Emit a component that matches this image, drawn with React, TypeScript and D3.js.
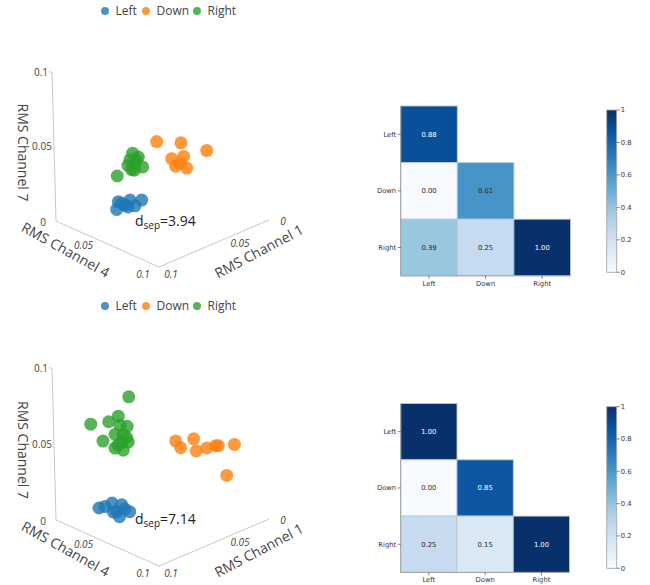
import React from "react";
import * as d3 from "d3";

// ---------- DATA ----------
const CLASSES = ["Left", "Down", "Right"];
const CLASS_COLORS = ["#1f77b4", "#ff7f0e", "#2ca02c"];

// 3D points: [RMS Channel 1, RMS Channel 4, RMS Channel 7]
type P3 = [number, number, number];

const run1Left: P3[] = [
  [0.071, 0.03, 0.013], [0.0604, 0.03, 0.0108], [0.0499, 0.03, 0.0075], [0.0726, 0.03, 0.0084],
  [0.065, 0.03, 0.0089], [0.0561, 0.03, 0.0056], [0.068, 0.03, 0.011], [0.0624, 0.03, 0.0068],
];
const run1Down: P3[] = [
  [0.0625, 0.06, 0.06], [0.0407, 0.06, 0.0523], [0.0177, 0.06, 0.0398], [0.0494, 0.06, 0.0444],
  [0.0386, 0.06, 0.0425], [0.046, 0.06, 0.0383], [0.0361, 0.06, 0.0339], [0.042, 0.06, 0.0389],
];
const run1Right: P3[] = [
  [0.0569, 0.03, 0.0412], [0.0595, 0.03, 0.0376], [0.0519, 0.03, 0.037], [0.0551, 0.03, 0.0336],
  [0.0482, 0.03, 0.0292], [0.0582, 0.03, 0.0306], [0.0558, 0.03, 0.0294], [0.0713, 0.03, 0.0304],
  [0.0614, 0.03, 0.0344], [0.0541, 0.03, 0.0355],
];

const run2Left: P3[] = [
  [0.0885, 0.03, 0.0134], [0.0767, 0.03, 0.013], [0.068, 0.03, 0.0092], [0.0831, 0.03, 0.0128],
  [0.0727, 0.03, 0.0062], [0.061, 0.03, 0.0025], [0.0703, 0.03, 0.0021], [0.0758, 0.03, 0.0069],
  [0.0652, 0.03, 0.0056],
];
const run2Down: P3[] = [
  [0.0637, 0.08, 0.065], [0.0594, 0.08, 0.0592], [0.0475, 0.08, 0.0614], [0.0455, 0.08, 0.0528],
  [0.036, 0.08, 0.0518], [0.0278, 0.08, 0.0508], [0.0255, 0.08, 0.0501], [0.011, 0.08, 0.0464],
  [0.0187, 0.08, 0.0284],
];
const run2Right: P3[] = [
  [0.05, 0.02, 0.0716], [0.0848, 0.02, 0.0644], [0.0686, 0.02, 0.061], [0.0598, 0.02, 0.0619],
  [0.0585, 0.02, 0.0555], [0.0521, 0.02, 0.0529], [0.0742, 0.02, 0.05], [0.0632, 0.02, 0.051],
  [0.0558, 0.02, 0.0485], [0.0528, 0.02, 0.0458], [0.0636, 0.02, 0.0421], [0.0562, 0.02, 0.0384],
  [0.0574, 0.02, 0.0439], [0.0515, 0.02, 0.0423], [0.0608, 0.02, 0.0432],
];

const dsepValues = [3.94, 7.14];

// Heatmap matrices (lower triangle, rows = CLASSES, cols = CLASSES)
const run1Matrix: (number | null)[][] = [
  [0.88, null, null],
  [0.0, 0.61, null],
  [0.39, 0.25, 1.0],
];
const run2Matrix: (number | null)[][] = [
  [1.0, null, null],
  [0.0, 0.85, null],
  [0.25, 0.15, 1.0],
];

const axisTicks3d = [0, 0.05, 0.1];
const axisTickLabels3d = ["0", "0.05", "0.1"];
const colorbarTicks = [0, 0.2, 0.4, 0.6, 0.8, 1];
const colorbarTickLabels = ["0", "0.2", "0.4", "0.6", "0.8", "1"];

// ---------- STYLE / LAYOUT ----------
const BLUES = ["#f7fbff", "#deebf7", "#c6dbef", "#9ecae1", "#6baed6", "#4292c6", "#2171b5", "#08519c", "#08306b"];
const colorScale = d3
  .scaleLinear<string>()
  .domain(d3.range(9).map((i) => i / 8))
  .range(BLUES)
  .interpolate(d3.interpolateRgb)
  .clamp(true);

const PLOTLY_FONT = "'Open Sans', 'Noto Sans', sans-serif";
const MPL_FONT = "'DejaVu Sans', sans-serif";
const TXT = "#444";

type Geo = { C: [number, number]; U4: [number, number]; U1: [number, number]; U7: [number, number] };

const panels = [
  {
    dy: 0,
    geo: { C: [56, 221], U4: [103, 46], U1: [110, -47], U7: [-4, -149] } as Geo,
    data: [run1Left, run1Down, run1Right],
    matrix: run1Matrix,
    dsep: dsepValues[0],
    legendY: 11,
    dsepPos: [135, 225.5],
    hm: { x0: 400.7, y0: 106, cell: 56.6, cbX: 606.7, cbY0: 110, cbY1: 272.3 },
  },
  {
    dy: 299,
    geo: { C: [56, 520], U4: [103, 46], U1: [110, -47], U7: [-4, -152] } as Geo,
    data: [run2Left, run2Down, run2Right],
    matrix: run2Matrix,
    dsep: dsepValues[1],
    legendY: 306,
    dsepPos: [135, 523.5],
    hm: { x0: 400.7, y0: 403.5, cell: 56.3, cbX: 606.7, cbY0: 406.7, cbY1: 568.3 },
  },
];

const legendX = [105, 146, 197];
// offsets of 3D tick labels (center) from their axis point
const vertLabelOff = [[-13, 1.5], [-12, 0], [-11, 0]];
const ch4LabelOff = [null, [-24, 1.5], [-16, 7.5]];
const ch1LabelOff = [[14, 1.5], [26, 0], [12, 7.5]];

function makeProjection(g: Geo) {
  const s4 = d3.scaleLinear().domain([0, 0.1]).range([0, 1]);
  const s1 = d3.scaleLinear().domain([0.1, 0]).range([0, 1]);
  const s7 = d3.scaleLinear().domain([0, 0.1]).range([0, 1]);
  return (p: P3): [number, number] => {
    const a = s4(p[1]);
    const b = s1(p[0]);
    const c = s7(p[2]);
    return [
      g.C[0] + a * g.U4[0] + b * g.U1[0] + c * g.U7[0],
      g.C[1] + a * g.U4[1] + b * g.U1[1] + c * g.U7[1],
    ];
  };
}

function Scatter3D({ panel }: { panel: (typeof panels)[number] }) {
  const proj = makeProjection(panel.geo);
  const o = proj([0.1, 0, 0]);
  const top = proj([0.1, 0, 0.1]);
  const c4 = proj([0.1, 0.1, 0]);
  const c1 = proj([0, 0.1, 0]);
  const axisColor = "#c8c8c8";
  const ly = panel.legendY;

  const mid7 = proj([0.1, 0, 0.05]);
  const mid4 = proj([0.1, 0.05, 0]);
  const mid1 = proj([0.05, 0.1, 0]);

  return (
    <g>
      {CLASSES.map((c, i) => (
        <g key={c}>
          <circle cx={legendX[i]} cy={ly} r={4} fill={CLASS_COLORS[i]} fillOpacity={0.8} />
          <text x={legendX[i] + 10.5} y={ly + 4.3} fontSize={12} fontFamily={PLOTLY_FONT} fill={TXT}>
            {c}
          </text>
        </g>
      ))}
      <line x1={o[0]} y1={o[1]} x2={top[0]} y2={top[1]} stroke={axisColor} strokeWidth={1} />
      <line x1={top[0]} y1={top[1]} x2={top[0] - 3} y2={top[1]} stroke={axisColor} strokeWidth={1} />
      <line x1={o[0]} y1={o[1]} x2={c4[0]} y2={c4[1]} stroke={axisColor} strokeWidth={1} />
      <line x1={c4[0]} y1={c4[1]} x2={c1[0]} y2={c1[1]} stroke={axisColor} strokeWidth={1} />
      {axisTicks3d.map((v, i) => {
        const p = proj([0.1, 0, v]);
        return (
          <text key={"v" + i} x={p[0] + vertLabelOff[i][0]} y={p[1] + vertLabelOff[i][1] + 3.5}
            fontSize={10} fontFamily={PLOTLY_FONT} fill={TXT} textAnchor="middle">
            {axisTickLabels3d[i]}
          </text>
        );
      })}
      {axisTicks3d.map((v, i) => {
        const off = ch4LabelOff[i];
        if (!off) return null;
        const p = proj([0.1, v, 0]);
        return (
          <text key={"a" + i} x={p[0] + off[0]} y={p[1] + off[1] + 3.5}
            fontSize={10} fontFamily={PLOTLY_FONT} fill={TXT} textAnchor="middle" fontStyle="italic">
            {axisTickLabels3d[i]}
          </text>
        );
      })}
      {axisTicks3d.map((v, i) => {
        const off = ch1LabelOff[i];
        const p = proj([v, 0.1, 0]);
        return (
          <text key={"b" + i} x={p[0] + off[0]} y={p[1] + off[1] + 3.5}
            fontSize={10} fontFamily={PLOTLY_FONT} fill={TXT} textAnchor="middle" fontStyle="italic">
            {axisTickLabels3d[i]}
          </text>
        );
      })}
      <text transform={`translate(${mid7[0] - 31},${mid7[1] + 6}) rotate(90)`} fontSize={14}
        fontFamily={PLOTLY_FONT} fill={TXT} textAnchor="middle" dy="0.35em">
        RMS Channel 7
      </text>
      <text transform={`translate(${mid4[0] - 42},${mid4[1] + 6}) rotate(29)`} fontSize={14}
        fontFamily={PLOTLY_FONT} fill={TXT} textAnchor="middle" dy="0.35em">
        RMS Channel 4
      </text>
      <text transform={`translate(${mid1[0] + 45},${mid1[1] + 8}) rotate(-28)`} fontSize={14}
        fontFamily={PLOTLY_FONT} fill={TXT} textAnchor="middle" dy="0.35em">
        RMS Channel 1
      </text>
      {panel.data.map((arr, ci) => (
        <g key={ci}>
          {arr.map((p, j) => {
            const [x, y] = proj(p);
            return <circle key={j} cx={x} cy={y} r={6.5} fill={CLASS_COLORS[ci]} fillOpacity={0.8} />;
          })}
        </g>
      ))}
      <text x={panel.dsepPos[0]} y={panel.dsepPos[1]} fontSize={14} fontFamily={PLOTLY_FONT} fill="#222">
        d
        <tspan fontSize={10} dy={3}>sep</tspan>
        <tspan dy={-3}>={panel.dsep.toFixed(2)}</tspan>
      </text>
    </g>
  );
}

function Heatmap({ panel }: { panel: (typeof panels)[number] }) {
  const { x0, y0, cell, cbX, cbY0, cbY1 } = panel.hm;
  const xs = d3.scaleBand().domain(CLASSES).range([x0, x0 + 3 * cell]);
  const ys = d3.scaleBand().domain(CLASSES).range([y0, y0 + 3 * cell]);
  const cbScale = d3.scaleLinear().domain([0, 1]).range([cbY1, cbY0]);
  const gid = "cbgrad" + panel.dy;
  const fs = 6.8;
  const tickColor = "#333";
  return (
    <g>
      <defs>
        <linearGradient id={gid} x1="0" y1="1" x2="0" y2="0">
          {BLUES.map((c, i) => (
            <stop key={i} offset={`${(i / 8) * 100}%`} stopColor={c} />
          ))}
        </linearGradient>
      </defs>
      {panel.matrix.map((row, ri) =>
        row.map((v, cj) => {
          if (v === null) return null;
          const x = xs(CLASSES[cj])!;
          const y = ys(CLASSES[ri])!;
          return (
            <g key={ri + "-" + cj}>
              <rect x={x} y={y} width={xs.bandwidth()} height={ys.bandwidth()} fill={colorScale(v)}
                stroke="#bcc6d2" strokeWidth={0.9} />
              <text x={x + xs.bandwidth() / 2} y={y + ys.bandwidth() / 2} dy="0.35em" textAnchor="middle"
                fontSize={fs} fontFamily={MPL_FONT} fill={v > 0.7 ? "#ffffff" : "#262626"}>
                {v.toFixed(2)}
              </text>
            </g>
          );
        })
      )}
      <line x1={x0} y1={y0} x2={x0} y2={y0 + 3 * cell} stroke="#a0a0a0" strokeWidth={1} />
      <line x1={x0} y1={y0 + 3 * cell} x2={x0 + 3 * cell} y2={y0 + 3 * cell} stroke="#a0a0a0" strokeWidth={1} />
      {CLASSES.map((c) => {
        const y = ys(c)! + ys.bandwidth() / 2;
        return (
          <g key={"y" + c}>
            <line x1={x0 - 3} x2={x0} y1={y} y2={y} stroke={tickColor} strokeWidth={0.6} />
            <text x={x0 - 4.5} y={y} dy="0.35em" textAnchor="end" fontSize={fs} fontFamily={MPL_FONT} fill={tickColor}>
              {c}
            </text>
          </g>
        );
      })}
      {CLASSES.map((c) => {
        const x = xs(c)! + xs.bandwidth() / 2;
        const yb = y0 + 3 * cell;
        return (
          <g key={"x" + c}>
            <line x1={x} x2={x} y1={yb} y2={yb + 3} stroke={tickColor} strokeWidth={0.6} />
            <text x={x} y={yb + 9.8} textAnchor="middle" fontSize={fs} fontFamily={MPL_FONT} fill={tickColor}>
              {c}
            </text>
          </g>
        );
      })}
      <rect x={cbX} y={cbY0} width={10} height={cbY1 - cbY0} fill={`url(#${gid})`} stroke="#a8a8a8" strokeWidth={0.9} />
      {colorbarTicks.map((t, i) => (
        <g key={"cb" + i}>
          <line x1={cbX + 10} x2={cbX + 13} y1={cbScale(t)} y2={cbScale(t)} stroke={tickColor} strokeWidth={0.6} />
          <text x={cbX + 14} y={cbScale(t)} dy="0.35em" fontSize={fs} fontFamily={MPL_FONT} fill={tickColor}>
            {colorbarTickLabels[i]}
          </text>
        </g>
      ))}
    </g>
  );
}

export default function App() {
  return (
    <svg width={650} height={585} viewBox="0 0 650 585"
      style={{ position: "absolute", left: 0, top: 0, background: "#fff" }}>
      <rect x={0} y={0} width={650} height={585} fill="#fff" />
      {panels.map((p, i) => (
        <g key={i}>
          <Scatter3D panel={p} />
          <Heatmap panel={p} />
        </g>
      ))}
    </svg>
  );
}
